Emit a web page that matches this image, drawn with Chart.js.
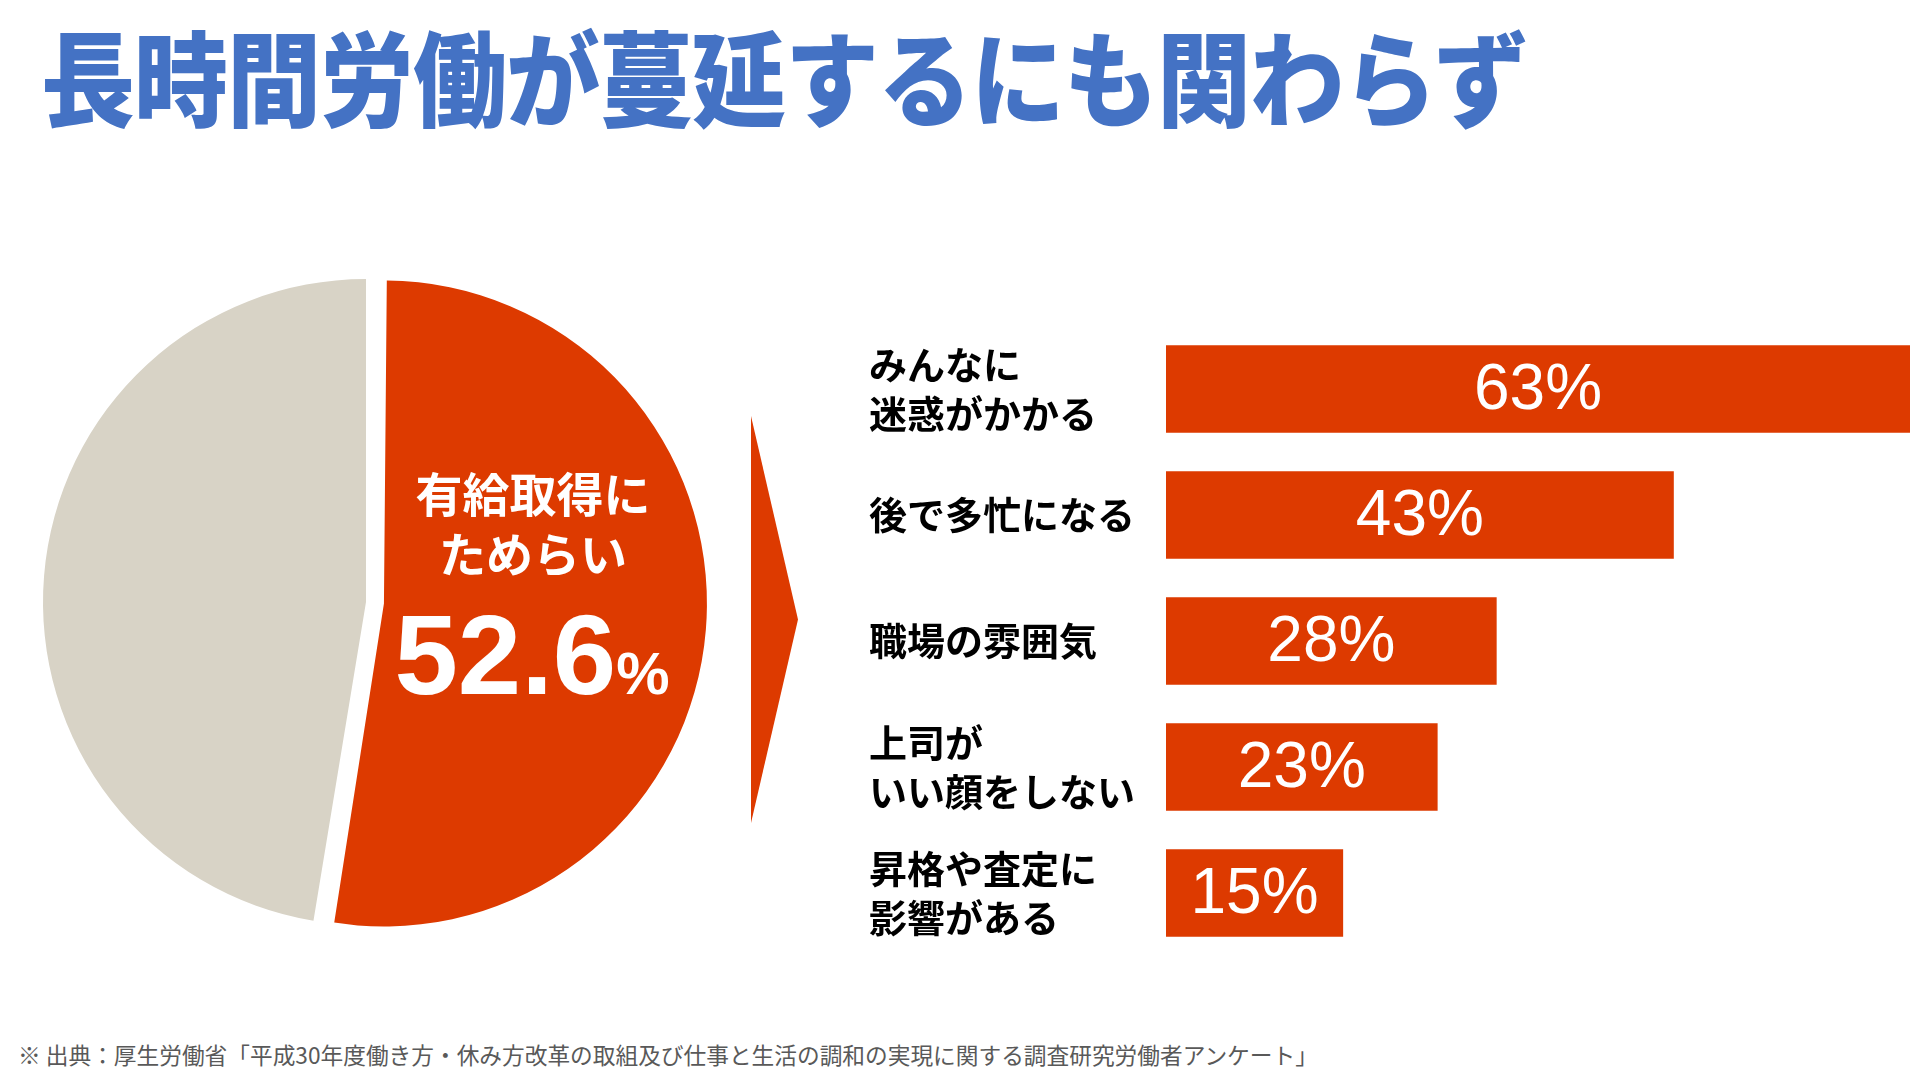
<!DOCTYPE html>
<html>
<head>
<meta charset="utf-8">
<script src="https://cdn.jsdelivr.net/npm/chart.js@4"></script>
<style>
  html, body { margin: 0; padding: 0; background: #fff; }
  body { width: 1920px; height: 1080px; position: relative; overflow: hidden; font-family: "Noto Sans CJK JP", sans-serif; }
  #title { position: absolute; left: 41px; top: 15px; font-size: 94px; font-weight: 900; color: #4472c4; letter-spacing: -1px; line-height: 118px; white-space: nowrap; transform: scaleY(1.1); transform-origin: 0 50%; }
  #pieBox { position: absolute; left: 7px; top: 243px; width: 718px; height: 718px; }
  #barBox { position: absolute; left: 869px; top: 277px; width: 1041px; height: 728px; }
  .pieText { position: absolute; color: #fff; font-weight: 700; text-align: center; white-space: nowrap; }
  #arrow { position: absolute; left: 751px; top: 416px; width: 47px; height: 407px; background: #dd3a00; clip-path: polygon(0 0, 100% 50%, 0 100%); }
  #source { position: absolute; left: 18px; top: 1040px; font-size: 22.7px; color: #595959; white-space: nowrap; line-height: 30px; }
</style>
</head>
<body>
<div id="title">長時間労働が蔓延するにも関わらず</div>

<div id="pieBox"><canvas id="pieChart"></canvas></div>
<div class="pieText" style="left:413px; top:462px; width:240px; font-size:47px; line-height:60px;">有給取得に<br>ためらい</div>
<div class="pieText" style="left:382px; top:590px; width:300px; font-family:'Liberation Sans', Arial, sans-serif; font-size:114px; line-height:130px;">52.6<span style="font-size:60px;">%</span></div>

<div id="arrow"></div>

<div id="barBox"><canvas id="barChart"></canvas></div>

<div id="source">※ 出典：厚生労働省「平成30年度働き方・休み方改革の取組及び仕事と生活の調和の実現に関する調査研究労働者アンケート」</div>

<script>
// 円グラフ
const pieLabels = ['有給取得にためらい', 'その他'];
const pieValues = [52.6, 47.4];

// 理由別の棒グラフ
const reasonLabels = [
  ['みんなに', '迷惑がかかる'],
  ['後で多忙になる'],
  ['職場の雰囲気'],
  ['上司が', 'いい顔をしない'],
  ['昇格や査定に', '影響がある']
];
const reasonValues = [63, 43, 28, 23, 15];

const red = '#dd3a00';
const grey = '#d8d3c6';
const sliceOffset = 72;

// offsetで半径も大きくなるので元に戻す
const keepRadius = {
  id: 'keepRadius',
  afterDatasetsUpdate(chart) {
    const arc = chart.getDatasetMeta(0).data[0];
    arc.outerRadius -= sliceOffset / 4;
  }
};

new Chart(document.getElementById('pieChart'), {
  type: 'pie',
  data: {
    labels: pieLabels,
    datasets: [{
      data: pieValues,
      backgroundColor: [red, grey],
      borderWidth: 0,
      offset: [sliceOffset, 0]
    }]
  },
  options: {
    responsive: true,
    maintainAspectRatio: false,
    animation: false,
    events: [],
    layout: { padding: 0 },
    plugins: { legend: { display: false }, tooltip: { enabled: false } }
  },
  plugins: [keepRadius]
});

// 棒の中に値を書く
const valueLabels = {
  id: 'valueLabels',
  afterDatasetsDraw(chart) {
    const ctx = chart.ctx;
    const meta = chart.getDatasetMeta(0);
    ctx.save();
    ctx.fillStyle = '#fff';
    ctx.font = '64px "Liberation Sans", Arial, sans-serif';
    ctx.textAlign = 'center';
    ctx.textBaseline = 'middle';
    meta.data.forEach(function(bar, i) {
      ctx.fillText(reasonValues[i] + '%', (bar.x + bar.base) / 2, bar.y + 2);
    });
    ctx.restore();
  }
};

new Chart(document.getElementById('barChart'), {
  type: 'bar',
  data: {
    labels: reasonLabels,
    datasets: [{
      data: reasonValues,
      backgroundColor: red,
      borderWidth: 0,
      categoryPercentage: 1,
      barPercentage: 0.693
    }]
  },
  options: {
    indexAxis: 'y',
    responsive: true,
    maintainAspectRatio: false,
    animation: false,
    events: [],
    layout: { padding: 0 },
    scales: {
      x: { display: false, min: 0, max: 63 },
      y: {
        grid: { display: false },
        border: { display: false },
        afterFit: function(scale) { scale.width = 297; },
        ticks: {
          crossAlign: 'far',
          color: '#000',
          padding: 0,
          font: { family: '"Noto Sans CJK JP", sans-serif', size: 38, weight: 'bold', lineHeight: 1.29 }
        }
      }
    },
    plugins: { legend: { display: false }, tooltip: { enabled: false } }
  },
  plugins: [valueLabels]
});
</script>
</body>
</html>
